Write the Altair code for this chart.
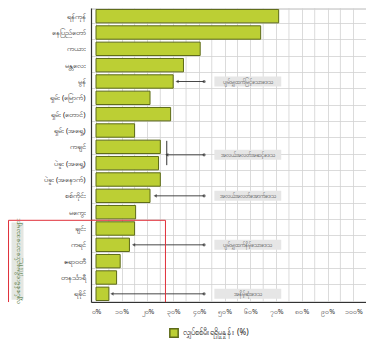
import altair as alt
import pandas as pd

regions = ["ရန်ကုန်", "နေပြည်တော်", "ကယား", "မန္တလေး", "မွန်",
           "ရှမ်း (မြောက်)", "ရှမ်း (တောင်)", "ရှမ်း (အရှေ့)", "ကချင်",
           "ပဲခူး (အရှေ့)", "ပဲခူး (အနောက်)", "စစ်ကိုင်း", "မကွေး", "ချင်း",
           "ကရင်", "ဧရာဝတီ", "တနင်္သာရီ", "ရခိုင်"]
access = [71, 64, 40.5, 34, 30, 21, 29, 15, 25, 24.3, 25, 21, 15.4, 15, 13, 9.4, 8, 5]
series_name = "လျှပ်စစ်မီးရရှိမှုနှုန်း (%)"

tick_values = [0, 10, 20, 30, 40, 50, 60, 70, 80, 90, 100]
tick_labels = ["၀%", "၁၀%", "၂၀%", "၃၀%", "၄၀%", "၅၀%", "၆၀%", "၇၀%", "၈၀%", "၉၀%", "၁၀၀%"]
grid_values = [5, 15, 25, 35, 45, 55, 65, 75, 85, 95]

# annotations (single rows)
ann_rows = ["မွန်", "စစ်ကိုင်း", "ကရင်", "ရခိုင်"]
ann_start = [31.5, 23, 14.6, 6.2]
ann_text = ["ပျမ်းမျှထက်မြင့်သောဒေသ", "အလယ်အလတ်အောက်ဒေသ", "ပျမ်းမျှထက်နိမ့်သောဒေသ", "အနိမ့်ဆုံးဒေသ"]
# bracketed annotation
br_top = "ကချင်"
br_bottom = "ပဲခူး (အရှေ့)"
br_x = 27.5
br_text = "အလယ်အလတ်အဆင့်ဒေသ"
arrow_end = 42
box_from = [46]
box_to = [72]
# red box (lowest group)
red_top = "ချင်း"
red_bottom = "ရခိုင်"
red_left = -34
red_right = 27
red_text = "လျှပ်စစ်မီးရရှိမှုနည်းသောဒေသများ"

FILL = "#bccf34"
EDGE = "#5d6a18"
GRID = "#d2d2d2"
FONT = "Noto Sans"

label_expr = "".join(f"datum.value == {v} ? '{l}' : " for v, l in zip(tick_values, tick_labels)) + "''"

df = pd.DataFrame({"region": regions, "value": access, "series": series_name})
W, H = 275, 294
yscale = alt.Scale(domain=regions, paddingInner=0.18, paddingOuter=0.09)
xscale = alt.Scale(domain=[0, 103], nice=False, zero=False)

x_axis = alt.Axis(values=tick_values, labelExpr=label_expr, grid=True, gridColor=GRID,
                  gridWidth=0.8, ticks=False, labelFontSize=7, labelColor="#333",
                  labelFont=FONT, labelFlush=False, labelOverlap=False, title=None,
                  domainColor="#333", domainWidth=1.2, labelPadding=5)

minor_grid = alt.Chart(pd.DataFrame({"g": grid_values})).mark_rule(color=GRID, strokeWidth=0.8).encode(
    x=alt.X("g:Q", scale=xscale, axis=x_axis, title=None))

bars = alt.Chart(df).mark_bar(stroke=EDGE, strokeWidth=1).encode(
    y=alt.Y("region:N", sort=regions, scale=yscale, title=None,
            axis=alt.Axis(tickBand="extent", grid=True, gridColor=GRID, gridWidth=0.8,
                          ticks=False, labelPadding=6, labelFontSize=7.5, labelColor="#222",
                          labelFont=FONT, domainColor="#333", domainWidth=1.2, labelLimit=90)),
    x=alt.X("value:Q", scale=xscale, title=None, axis=x_axis),
    color=alt.Color("series:N", scale=alt.Scale(range=[FILL]),
                    legend=alt.Legend(orient="none", legendX=78, legendY=320, title=None,
                                      symbolType="square", symbolSize=70, symbolStrokeColor=EDGE,
                                      symbolStrokeWidth=1.5, labelFontSize=8, labelFont=FONT,
                                      labelColor="#222", labelLimit=200)),
)

adf = pd.DataFrame({"region": ann_rows, "start": ann_start, "end": arrow_end,
                    "b0": box_from[0], "b1": box_to[0], "mid": (box_from[0] + box_to[0]) / 2,
                    "text": ann_text})
bdf = pd.DataFrame({"region": [br_top], "start": [br_x], "end": [arrow_end],
                    "b0": box_from[0], "b1": box_to[0], "mid": (box_from[0] + box_to[0]) / 2,
                    "text": [br_text]})


def X(field):
    return alt.X(field, type="quantitative", scale=xscale, axis=x_axis, title=None)


def ann_layers(data, off):
    base = alt.Chart(data)
    y = alt.Y("region:N", scale=yscale, sort=regions, title=None)
    arrow = base.mark_rule(color="#333", strokeWidth=0.9, yOffset=off, y2Offset=off).encode(
        y=y, x=X("start"), x2="end:Q")
    head = base.mark_point(shape="triangle-left", filled=True, color="#333", size=14, yOffset=off).encode(
        y=y, x=X("start"))
    dot = base.mark_point(shape="circle", filled=True, color="#333", size=10, yOffset=off).encode(
        y=y, x=X("end"))
    box = base.mark_bar(color="#e6e6e6", size=10, yOffset=off).encode(
        y=y, x=X("b0"), x2="b1:Q")
    txt = base.mark_text(fontSize=5.5, font=FONT, color="#444", yOffset=off).encode(
        y=y, x=X("mid"), text="text:N")
    return [arrow, head, dot, box, txt]


bracket = alt.Chart(pd.DataFrame({"a": [br_top], "b": [br_bottom], "x": [br_x]})).mark_rule(
    color="#333", strokeWidth=1, yOffset=-6, y2Offset=2).encode(
    y=alt.Y("a:N", scale=yscale, sort=regions, title=None), y2="b:N", x=X("x"))

red = pd.DataFrame({"t": [red_top], "b": [red_bottom], "l": [red_left], "r": [red_right],
                    "text": [red_text], "mid": [regions[regions.index(red_top) + 2]]})
ry = alt.Y("t:N", scale=yscale, sort=regions, title=None)
red_top_rule = alt.Chart(red).mark_rule(color="#e0303a", strokeWidth=1, yOffset=-8.2).encode(
    y=ry, x=X("l"), x2="r:Q")
red_left_rule = alt.Chart(red).mark_rule(color="#e0303a", strokeWidth=1, yOffset=-8.2, y2Offset=8.2).encode(
    y=ry, y2="b:N", x=X("l"))
red_right_rule = alt.Chart(red).mark_rule(color="#e0303a", strokeWidth=1, yOffset=-8.2, y2Offset=8.2).encode(
    y=ry, y2="b:N", x=X("r"))
red_label_bg = alt.Chart(red).mark_bar(color="#e4e7e2", size=12, xOffset=9, yOffset=-6, y2Offset=6).encode(
    y=ry, y2="b:N", x=X("l"))
red_label = alt.Chart(red).mark_text(angle=270, fontSize=6.5, font=FONT, color="#3f6a2a",
                                     xOffset=9).encode(
    y=alt.Y("mid:N", scale=yscale, sort=regions, title=None), x=X("l"), text="text:N")

chart = alt.layer(
    minor_grid, bars, *ann_layers(adf, 0), *ann_layers(bdf, 8), bracket,
    red_label_bg, red_label, red_top_rule, red_left_rule, red_right_rule,
).properties(
    width=W, height=H, autosize=alt.AutoSizeParams(type="none"),
    padding={"left": 83, "top": 0, "right": 0, "bottom": 39},
).configure_view(stroke=GRID).configure_axisX(labelOverlap=False).configure(background="white")

chart.save("out.html", embed_options={"renderer": "svg", "actions": False})
